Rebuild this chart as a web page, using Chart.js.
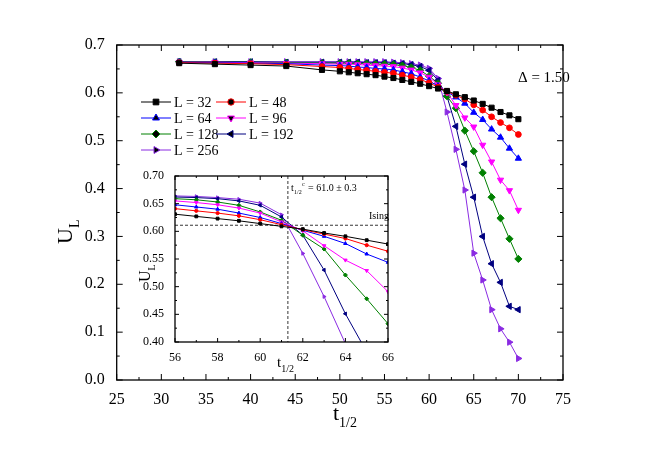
<!DOCTYPE html>
<html><head><meta charset="utf-8">
<script src="https://cdn.jsdelivr.net/npm/chart.js@4"></script>
<style>html,body{margin:0;padding:0;background:#fff}#w{position:relative;width:654px;height:457px}canvas{position:absolute;left:0;top:0}</style>
</head><body><div id="w"><canvas id="m" width="654" height="457"></canvas><canvas id="i" width="654" height="457"></canvas></div>
<script>
const xs = [32,36,40,44,48,50,51,52,53,54,55,56,57,58,59,60,61,62,63,64,65,66,67,68,69,70];
const labels = ['L = 32','L = 48','L = 64','L = 96','L = 128','L = 192','L = 256'];
const colors = ['#000000','#ff0000','#0000ff','#ff00ff','#008000','#000080','#8a2be2'];
const U32  = [0.662,0.660,0.658,0.656,0.648,0.645,0.643,0.641,0.639,0.637,0.634,0.631,0.627,0.623,0.619,0.614,0.609,0.604,0.597,0.591,0.584,0.577,0.569,0.560,0.553,0.545];
const U48  = [0.663,0.662,0.661,0.659,0.655,0.653,0.651,0.649,0.647,0.645,0.643,0.641,0.637,0.633,0.628,0.621,0.612,0.603,0.595,0.587,0.575,0.564,0.550,0.538,0.527,0.513];
const U64  = [0.664,0.663,0.662,0.661,0.658,0.657,0.656,0.654,0.653,0.651,0.650,0.648,0.644,0.640,0.633,0.625,0.614,0.602,0.591,0.578,0.559,0.544,0.524,0.507,0.484,0.463];
const U96  = [0.664,0.664,0.663,0.662,0.661,0.660,0.660,0.659,0.658,0.657,0.656,0.655,0.652,0.648,0.642,0.633,0.617,0.601,0.574,0.548,0.529,0.491,0.456,0.418,0.396,0.355];
const U128 = [0.665,0.664,0.664,0.663,0.662,0.662,0.662,0.661,0.661,0.660,0.660,0.659,0.657,0.653,0.647,0.635,0.620,0.593,0.568,0.521,0.478,0.433,0.382,0.338,0.295,0.253];
const U192 = [0.665,0.665,0.665,0.664,0.664,0.664,0.664,0.664,0.663,0.663,0.663,0.662,0.661,0.659,0.655,0.647,0.626,0.593,0.530,0.451,0.382,0.300,0.243,0.204,0.154,0.147];
const U256 = [0.665,0.665,0.665,0.665,0.665,0.665,0.665,0.665,0.665,0.665,0.665,0.664,0.663,0.661,0.658,0.651,0.630,0.560,0.482,0.397,0.265,0.209,0.147,0.107,0.079,0.045];
const series = [U32,U48,U64,U96,U128,U192,U256];
const styles = [['rect',0],['circle',0],['triangle',0],['triangle',180],['rectRot',0],['triangle',-90],['triangle',90]];
const mainXTicks = [25,30,35,40,45,50,55,60,65,70,75];
const mainYTicks = [0.0,0.1,0.2,0.3,0.4,0.5,0.6,0.7];
const tc = 61.3, ising = 0.611;
const F = '"Liberation Serif", serif';

function ds(r, range){
  return series.map((s,k)=>{const rr=styles[k][0]==='circle'?r*0.8:r;return {label:labels[k],data:xs.map((x,j)=>({x,y:s[j]})).filter(p=>!range||(p.x>=range[0]&&p.x<=range[1])),
   borderColor:colors[k],backgroundColor:colors[k],borderWidth:1,pointStyle:styles[k][0],rotation:styles[k][1],pointRadius:rr,pointHoverRadius:rr};});
}
function sub(ctx,x,y,main,s,size,ssize){
  ctx.font=size+'px '+F; const w=ctx.measureText(main).width; ctx.fillText(main,x,y);
  ctx.font=ssize+'px '+F; ctx.fillText(s,x+w,y+size*0.3);
}
function box(c,ctx){const a=c.chartArea;ctx.save();ctx.strokeStyle='#000';ctx.lineWidth=1.3;ctx.strokeRect(a.left,a.top,a.right-a.left,a.bottom-a.top);ctx.restore();}
function ticksDraw(c,ctx,xt,yt,len,minorX,minorY){
  const a=c.chartArea,sx=c.scales.x,sy=c.scales.y;ctx.save();ctx.strokeStyle='#000';ctx.lineWidth=1;ctx.beginPath();
  const all=(arr,m)=>{let o=[];for(let i=0;i<arr.length;i++){o.push([arr[i],len]);if(i<arr.length-1&&m)o.push([(arr[i]+arr[i+1])/2,len/2]);}return o;};
  all(xt,minorX).forEach(([v,l])=>{const p=sx.getPixelForValue(v);ctx.moveTo(p,a.bottom);ctx.lineTo(p,a.bottom-l);ctx.moveTo(p,a.top);ctx.lineTo(p,a.top+l);});
  all(yt,minorY).forEach(([v,l])=>{const p=sy.getPixelForValue(v);ctx.moveTo(a.left,p);ctx.lineTo(a.left+l,p);ctx.moveTo(a.right,p);ctx.lineTo(a.right-l,p);});
  ctx.stroke();ctx.restore();
}
const mainPlug={id:'mp',afterDraw(c){const ctx=c.ctx;box(c,ctx);ticksDraw(c,ctx,mainXTicks,mainYTicks,6,true,true);
  ctx.save();ctx.fillStyle='#000';ctx.textBaseline='alphabetic';
  sub(ctx,333,420,'t','1/2',22,14);
  ctx.translate(72,228);ctx.rotate(-Math.PI/2);sub(ctx,-16,0,'U','L',22,14);ctx.restore();
  ctx.save();ctx.fillStyle='#000';ctx.font='15px '+F;ctx.fillText('Δ = 1.50',518,82);
  const pos=[[141,102],[216,102],[141,118],[216,118],[141,134],[216,134],[141,150]];
  pos.forEach(([x,y],k)=>{ctx.strokeStyle=colors[k];ctx.lineWidth=1;ctx.beginPath();ctx.moveTo(x,y);ctx.lineTo(x+30,y);ctx.stroke();
    Chart.helpers.drawPoint(ctx,{pointStyle:styles[k][0],rotation:styles[k][1],radius:styles[k][0]==='circle'?3.2:4,borderWidth:1},x+15,y);
    ctx.fillStyle='#000';ctx.font='14px '+F;ctx.textBaseline='middle';ctx.fillText(labels[k],x+33,y+1);});
  ctx.restore();}};
new Chart(document.getElementById('m'),{type:'line',data:{datasets:ds(3.6)},plugins:[mainPlug],
 options:{responsive:false,animation:false,events:[],layout:{padding:{top:45,right:91,left:0,bottom:0}},
  plugins:{legend:{display:false},tooltip:{enabled:false}},
  elements:{point:{borderWidth:1},line:{tension:0}},
  scales:{x:{type:'linear',min:25,max:75,afterBuildTicks:s=>{s.ticks=mainXTicks.map(v=>({value:v}))},grid:{display:false},border:{display:false},ticks:{color:'#000',font:{family:F,size:16},padding:2},afterFit:s=>{s.height=77}},
   y:{type:'linear',min:0,max:0.7,afterBuildTicks:s=>{s.ticks=mainYTicks.map(v=>({value:v}))},grid:{display:false},border:{display:false},ticks:{color:'#000',font:{family:F,size:16},padding:4,callback:v=>v.toFixed(1)},afterFit:s=>{s.width=116.7}}}}});

const insetPlug={id:'ip',beforeDraw(c){const a=c.chartArea,ctx=c.ctx;ctx.save();ctx.fillStyle='#fff';ctx.fillRect(a.left,a.top,a.right-a.left,a.bottom-a.top);ctx.restore();},
 beforeDatasetsDraw(c){const a=c.chartArea,ctx=c.ctx,sx=c.scales.x,sy=c.scales.y;ctx.save();ctx.strokeStyle='#000';ctx.lineWidth=0.8;ctx.setLineDash([3,2]);ctx.beginPath();
  const px=sx.getPixelForValue(tc),py=sy.getPixelForValue(ising);ctx.moveTo(px,a.top);ctx.lineTo(px,a.bottom);ctx.moveTo(a.left,py);ctx.lineTo(a.right,py);ctx.stroke();ctx.restore();},
 afterDraw(c){const ctx=c.ctx;box(c,ctx);ticksDraw(c,ctx,[56,58,60,62,64,66],[0.40,0.45,0.50,0.55,0.60,0.65,0.70],4,true,true);
  ctx.save();ctx.fillStyle='#000';
  ctx.font='10px '+F;ctx.fillText('t',291,191);ctx.font='6px '+F;ctx.fillText('1/2',294,194);ctx.fillText('c',302,186);ctx.font='10px '+F;ctx.fillText('= 61.0 ± 0.3',308,191);
  ctx.fillText('Ising',369,219);
  sub(ctx,277,367,'t','1/2',15,10);
  ctx.translate(150,272);ctx.rotate(-Math.PI/2);sub(ctx,-10,0,'U','L',16,10);ctx.restore();}};
new Chart(document.getElementById('i'),{type:'line',data:{datasets:ds(2,[56,66])},plugins:[insetPlug],
 options:{responsive:false,animation:false,events:[],layout:{padding:{top:176,right:654-388,left:0,bottom:0}},
  plugins:{legend:{display:false},tooltip:{enabled:false}},
  elements:{line:{tension:0}},
  scales:{x:{type:'linear',min:56,max:66,ticks:{stepSize:2,color:'#000',font:{family:F,size:12},padding:1},grid:{display:false},border:{display:false},afterFit:s=>{s.height=457-342}},
   y:{type:'linear',min:0.40,max:0.70,ticks:{stepSize:0.05,color:'#000',font:{family:F,size:12},padding:3,callback:v=>v.toFixed(2)},grid:{display:false},border:{display:false},afterFit:s=>{s.width=175}}}}});
</script></body></html>
